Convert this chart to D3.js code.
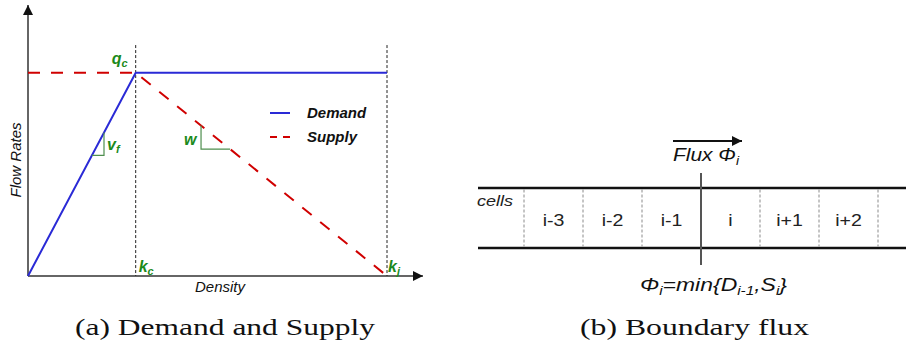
<!DOCTYPE html>
<html>
<head>
<meta charset="utf-8">
<script src="https://cdn.jsdelivr.net/npm/d3@7"></script>
<style>
  html, body { margin: 0; padding: 0; background: #fff; }
  svg { display: block; }
  .sans { font-family: "Liberation Sans", Arial, sans-serif; }
  .serif { font-family: "Liberation Serif", "Times New Roman", serif; }
</style>
</head>
<body>
<svg id="fig" width="906" height="349"></svg>
<script>
// ---- Fundamental diagram (triangular) parameters ----
const kc = 0.3;        // critical density
const kj = 1.0;        // jam density
const qc = 1.0;        // capacity
const demandPts = [[0, 0], [kc, qc], [kj, qc]];
const supplyPts = [[0, qc], [kc, qc], [kj, 0]];
const densityGuides = [kc, kj];
const guideTop = 1.136;
const vfTri = [0.178, 0.2117];   // slope marker on the demand branch
const wTri = [0.482, 0.563];     // slope marker on the supply branch

// ---- Cell layout ----
const cellLabels = ["i-3", "i-2", "i-1", "i", "i+1", "i+2"];
const fluxAfter = "i-1";         // boundary where the flux is evaluated

const captions = ["(a) Demand and Supply", "(b) Boundary flux"];

const svg = d3.select("#fig");
const defs = svg.append("defs");
defs.append("marker").attr("id", "arrow").attr("viewBox", "0 0 10 10")
  .attr("refX", 10).attr("refY", 5).attr("markerWidth", 10).attr("markerHeight", 10)
  .attr("markerUnits", "userSpaceOnUse").attr("orient", "auto")
  .append("path").attr("d", "M0,0 L10,5 L0,10 z").attr("fill", "#111");

const GREEN = "#1b8a1b";
const BLUE = "#2a2ad6";
const RED = "#d00000";

// ================= Panel (a) =================
const x = d3.scaleLinear().domain([0, kj]).range([28, 387]);
const y = d3.scaleLinear().domain([0, qc]).range([276, 72.7]);
const demand = k => k <= kc ? qc * k / kc : qc;
const supply = k => k <= kc ? qc : qc * (kj - k) / (kj - kc);

const a = svg.append("g").attr("class", "sans");

// axes with arrowheads
a.append("line").attr("x1", x(0)).attr("y1", y(0)).attr("x2", x(0)).attr("y2", 5)
  .attr("stroke", "#333").attr("stroke-width", 1.5).attr("marker-end", "url(#arrow)");
a.append("line").attr("x1", x(0)).attr("y1", y(0)).attr("x2", 423).attr("y2", y(0))
  .attr("stroke", "#333").attr("stroke-width", 1.5).attr("marker-end", "url(#arrow)");

// critical / jam density guides
a.selectAll(".guide").data(densityGuides).join("line")
  .attr("x1", d => x(d)).attr("x2", d => x(d))
  .attr("y1", y(guideTop)).attr("y2", y(0))
  .attr("stroke", "#222").attr("stroke-width", 1).attr("stroke-dasharray", "3,2");

const line = d3.line().x(d => x(d[0])).y(d => y(d[1]));
a.append("path").attr("d", line(supplyPts)).attr("fill", "none")
  .attr("stroke", RED).attr("stroke-width", 2).attr("stroke-dasharray", "12,11");
a.append("path").attr("d", line(demandPts)).attr("fill", "none")
  .attr("stroke", BLUE).attr("stroke-width", 2);

// slope markers
const triV = [[vfTri[0], demand(vfTri[0])], [vfTri[1], demand(vfTri[0])], [vfTri[1], demand(vfTri[1])]];
const triW = [[wTri[0], supply(wTri[0])], [wTri[0], supply(wTri[1])], [wTri[1], supply(wTri[1])]];
[triV, triW].forEach(t => a.append("path").attr("d", line(t)).attr("fill", "none")
  .attr("stroke", "#4f8f4f").attr("stroke-width", 1.2));

// symbol labels
function sym(g, px, py, main, sub) {
  const t = g.append("text").attr("x", px).attr("y", py)
    .attr("fill", GREEN).attr("font-size", 16).attr("font-weight", "bold").attr("font-style", "italic");
  t.append("tspan").text(main);
  if (sub) t.append("tspan").attr("dy", 3).attr("font-size", 11).text(sub);
}
sym(a, x(kc) - 24, y(qc) - 9, "q", "c");
sym(a, x(vfTri[1]) + 3, y(demand(vfTri[0])) - 5, "v", "f");
sym(a, x(wTri[0]) - 17, y(supply(wTri[1])) - 4.5, "w");
sym(a, x(kc) + 3, 272, "k", "c");
sym(a, x(kj) + 1, 272, "k", "j");

// axis titles
a.append("text").attr("x", 220).attr("y", 292).attr("text-anchor", "middle")
  .attr("font-size", 15).attr("font-style", "italic").attr("fill", "#111").text("Density");
a.append("text").attr("transform", "translate(21,160) rotate(-90)").attr("text-anchor", "middle")
  .attr("font-size", 15).attr("font-style", "italic").attr("fill", "#111").text("Flow Rates");

// legend
const legend = a.append("g").attr("transform", "translate(270,113)");
const legendItems = [
  { name: "Demand", color: BLUE, dash: null },
  { name: "Supply", color: RED, dash: "7,6" }
];
legendItems.forEach((d, i) => {
  const g = legend.append("g").attr("transform", `translate(0,${i * 24})`);
  g.append("line").attr("x1", 0).attr("x2", 20).attr("stroke", d.color)
    .attr("stroke-width", 2).attr("stroke-dasharray", d.dash);
  g.append("text").attr("x", 37).attr("y", 5).attr("font-size", 15)
    .attr("font-weight", "bold").attr("font-style", "italic").attr("fill", "#111").text(d.name);
});

// ================= Panel (b) =================
const cx = d3.scaleBand().domain(cellLabels).range([524, 878]);
const roadTop = 188, roadBot = 248;
const stretch = 1.15;   // text in this panel is set slightly wide
const b = svg.append("g").attr("class", "sans");

[roadTop, roadBot].forEach(yy => b.append("line")
  .attr("x1", 478).attr("x2", 906).attr("y1", yy).attr("y2", yy)
  .attr("stroke", "#111").attr("stroke-width", 2.6));

const boundaries = cellLabels.map(c => cx(c)).concat([cx(cellLabels[cellLabels.length - 1]) + cx.bandwidth()]);
const fluxX = cx(fluxAfter) + cx.bandwidth();
b.selectAll(".cellEdge").data(boundaries.filter(v => Math.abs(v - fluxX) > 1)).join("line")
  .attr("x1", d => d).attr("x2", d => d).attr("y1", roadTop + 1.5).attr("y2", roadBot - 1.5)
  .attr("stroke", "#8a8a8a").attr("stroke-width", 1).attr("stroke-dasharray", "3,2");

b.append("line").attr("x1", fluxX).attr("x2", fluxX).attr("y1", 173).attr("y2", 265)
  .attr("stroke", "#555").attr("stroke-width", 2);

b.selectAll(".cellLabel").data(cellLabels).join("text")
  .attr("transform", d => `translate(${cx(d) + cx.bandwidth() / 2},226) scale(${stretch},1)`)
  .attr("text-anchor", "middle").attr("font-size", 17).attr("fill", "#222").text(d => d);

b.append("text").attr("transform", `translate(477,206) scale(1.2,1)`).attr("font-size", 15)
  .attr("font-style", "italic").attr("fill", "#222").text("cells");

// flux label with arrow
b.append("line").attr("x1", 673).attr("x2", 742).attr("y1", 141).attr("y2", 141)
  .attr("stroke", "#111").attr("stroke-width", 2).attr("marker-end", "url(#arrow)");
const fl = b.append("text").attr("x", 673).attr("y", 161).attr("font-size", 18)
  .attr("font-style", "italic").attr("fill", "#111")
  .attr("textLength", 66).attr("lengthAdjust", "spacingAndGlyphs");
fl.append("tspan").text("Flux Φ");
fl.append("tspan").attr("dy", 4).attr("font-size", 12).text("i");

// flux formula
const fm = b.append("text").attr("x", 640).attr("y", 291).attr("font-size", 18)
  .attr("font-style", "italic").attr("fill", "#111")
  .attr("textLength", 147).attr("lengthAdjust", "spacingAndGlyphs");
fm.append("tspan").text("Φ");
fm.append("tspan").attr("dy", 4).attr("font-size", 12).text("i");
fm.append("tspan").attr("dy", -4).text("=min{D");
fm.append("tspan").attr("dy", 4).attr("font-size", 12).text("i-1");
fm.append("tspan").attr("dy", -4).text(",S");
fm.append("tspan").attr("dy", 4).attr("font-size", 12).text("i");
fm.append("tspan").attr("dy", -4).text("}");

// ================= Captions =================
const capPos = [[75, 375], [580, 809]];
svg.selectAll(".caption").data(captions).join("text")
  .attr("class", "serif").attr("x", (d, i) => capPos[i][0]).attr("y", 335)
  .attr("font-size", 23).attr("fill", "#111")
  .attr("textLength", (d, i) => capPos[i][1] - capPos[i][0])
  .attr("lengthAdjust", "spacingAndGlyphs").text(d => d);
</script>
</body>
</html>
